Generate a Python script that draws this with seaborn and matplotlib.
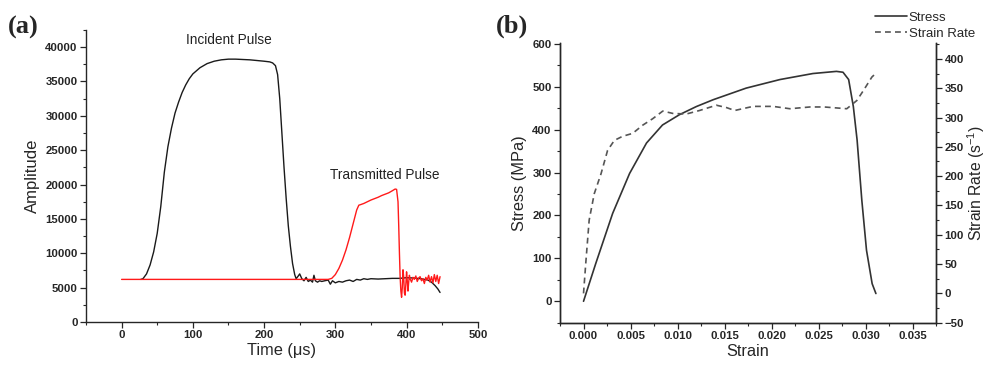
import seaborn as sns
import pandas as pd
import matplotlib.pyplot as plt
from matplotlib.ticker import MultipleLocator, FormatStrFormatter

# (a) incident pulse (black) and transmitted pulse (red)
inc_time = [27, 30, 35, 40, 45, 50, 55, 60, 65, 70, 75, 80, 85, 90, 95, 100, 110, 120, 130, 140,
            150, 160, 170, 180, 190, 200, 208, 212, 216, 219, 222, 225, 228, 231, 234, 237, 240,
            243, 245, 248, 250, 253, 256, 259, 262, 265, 268, 270, 272, 275, 278, 281, 285, 290,
            293, 296, 300, 305, 310, 315, 320, 325, 330, 335, 340, 345, 350, 360, 370, 380, 390,
            400, 410, 420, 430, 435, 440, 444, 447]
inc_amp = [6200, 6300, 7000, 8300, 10200, 12900, 16800, 21800, 25500, 28200, 30400, 32000, 33400,
           34500, 35400, 36100, 37000, 37600, 37950, 38150, 38250, 38250, 38200, 38150, 38050,
           37950, 37850, 37700, 37300, 36000, 32500, 27500, 22500, 18000, 14000, 11000, 8500,
           6900, 6300, 6700, 7000, 6300, 6000, 6500, 5900, 6100, 5800, 6800, 6000, 5800, 6000,
           5900, 6000, 6100, 5500, 6000, 5700, 5900, 5800, 6000, 6100, 5900, 6200, 6100, 6300,
           6200, 6300, 6250, 6300, 6350, 6350, 6450, 6400, 6300, 6100, 5800, 5300, 4800, 4300]

tr_time = [0, 100, 200, 290, 295, 300, 305, 310, 315, 320, 325, 330, 333, 336, 340, 345, 350, 355,
           360, 365, 370, 375, 380, 384, 386, 388, 389, 390, 391, 392, 393, 394, 395, 396, 397,
           398, 399, 400, 401, 402, 403, 404, 405, 407, 409, 411, 413, 415, 417, 419, 421, 423,
           425, 427, 429, 431, 433, 435, 437, 439, 441, 443, 445, 447]
tr_amp = [6200, 6200, 6200, 6200, 6350, 6900, 7800, 9000, 10500, 12300, 14300, 16300, 17000, 17100,
          17250, 17500, 17750, 17950, 18150, 18400, 18600, 18800, 19100, 19350, 19300, 17500,
          14000, 10000, 6500, 4500, 3600, 5000, 7600, 6500, 4200, 3900, 5500, 7300, 6000, 4500,
          5800, 6800, 6300, 5800, 6500, 6200, 6700, 5900, 6400, 6600, 6000, 6300, 5600, 6500,
          6100, 6800, 5800, 6600, 5700, 6900, 5900, 6800, 5600, 6600]

# (b) stress-strain and strain rate
stress_strain = [0.0, 0.0013, 0.0031, 0.0049, 0.0067, 0.0084, 0.0102, 0.012, 0.0138, 0.0173,
                 0.0209, 0.0244, 0.0269, 0.0276, 0.0282, 0.0287, 0.0291, 0.0296, 0.0301, 0.0307,
                 0.0311]
stress = [0, 88, 205, 298, 369, 411, 435, 454, 470, 497, 517, 531, 536, 534, 517, 454, 376, 236,
          119, 41, 18]

rate_strain = [0.0, 0.00026, 0.0006, 0.00114, 0.00186, 0.00256, 0.00328, 0.00416, 0.00523,
               0.0063, 0.00736, 0.00843, 0.0095, 0.01093, 0.01234, 0.01413, 0.0152, 0.01608,
               0.01803, 0.02017, 0.02195, 0.02408, 0.0256, 0.028, 0.02907, 0.02977, 0.03067,
               0.03113]
strain_rate = [0, 56, 125, 170, 204, 244, 261, 268, 273, 287, 298, 311, 307, 306, 312, 321, 317,
               312, 319, 319, 315, 318, 318, 315, 329, 346, 369, 376]

sns.set_style('ticks')
plt.rcParams['font.family'] = ['Liberation Sans', 'DejaVu Sans']
plt.rcParams['mathtext.fontset'] = 'custom'
plt.rcParams['mathtext.rm'] = 'Liberation Sans'
plt.rcParams['mathtext.it'] = 'Liberation Sans:italic'

fig = plt.figure(figsize=(9.87, 3.66), dpi=100)
ax1 = fig.add_axes([0.0871, 0.1202, 0.397, 0.798])
ax2 = fig.add_axes([0.5674, 0.1183, 0.381, 0.764])
ax3 = ax2.twinx()

inc = pd.DataFrame({'t': inc_time, 'a': inc_amp})
tr = pd.DataFrame({'t': tr_time, 'a': tr_amp})
sns.lineplot(data=inc, x='t', y='a', ax=ax1, color='#1a1a1a', lw=1.0, estimator=None)
sns.lineplot(data=tr, x='t', y='a', ax=ax1, color='#ff1a1a', lw=1.0, estimator=None)

ax1.set_xlim(-50, 500)
ax1.set_ylim(0, 42500)
ax1.xaxis.set_major_locator(MultipleLocator(100))
ax1.xaxis.set_minor_locator(MultipleLocator(50))
ax1.yaxis.set_major_locator(MultipleLocator(5000))
ax1.yaxis.set_minor_locator(MultipleLocator(2500))
ax1.set_xlabel('Time (μs)', fontsize=11.8, labelpad=2)
ax1.set_ylabel('Amplitude', fontsize=12, labelpad=4)
ax1.text(151, 41000, 'Incident Pulse', fontsize=9.8, ha='center', va='center', color='#222')
ax1.text(369, 21400, 'Transmitted Pulse', fontsize=9.8, ha='center', va='center', color='#222')
sns.despine(ax=ax1)

st = pd.DataFrame({'strain': stress_strain, 'stress': stress})
sr = pd.DataFrame({'strain': rate_strain, 'rate': strain_rate})
sns.lineplot(data=st, x='strain', y='stress', ax=ax2, color='#333', lw=1.2,
             estimator=None, label='Stress', legend=False)
sns.lineplot(data=sr, x='strain', y='rate', ax=ax3, color='#555', lw=1.2, ls=(0, (3.5, 2.5)),
             estimator=None, label='Strain Rate', legend=False)

ax2.set_xlim(-0.0025, 0.0375)
ax2.set_ylim(-50, 602)
ax3.set_ylim(-50, 427)
ax2.xaxis.set_major_locator(MultipleLocator(0.005))
ax2.xaxis.set_minor_locator(MultipleLocator(0.0025))
ax2.xaxis.set_major_formatter(FormatStrFormatter('%.3f'))
ax2.yaxis.set_major_locator(MultipleLocator(100))
ax2.yaxis.set_minor_locator(MultipleLocator(50))
ax3.yaxis.set_major_locator(MultipleLocator(50))
ax3.yaxis.set_minor_locator(MultipleLocator(25))
ax2.set_xlabel('Strain', fontsize=11.8, labelpad=2)
ax2.set_ylabel('Stress (MPa)', fontsize=11.8, labelpad=4)
ax3.set_ylabel('Strain Rate (s$^{-1}$)', fontsize=11.3, labelpad=1)
ax2.spines['top'].set_visible(False)
ax3.spines['top'].set_visible(False)

for ax in (ax1, ax2, ax3):
    ax.tick_params(which='major', direction='out', length=4, width=0.9, labelsize=8.2, pad=2)
    ax.tick_params(which='minor', direction='out', length=2.5, width=0.8)
    for lab in ax.get_xticklabels() + ax.get_yticklabels():
        lab.set_fontweight('bold')
    for sp in ax.spines.values():
        sp.set_linewidth(1.0)

handles = ax2.get_lines()[:1] + ax3.get_lines()[:1]
fig.legend(handles, ['Stress', 'Strain Rate'], loc='upper right', bbox_to_anchor=(1.0, 1.0),
           frameon=False, fontsize=9.5, handlelength=2.4, handletextpad=0.15, labelspacing=0.25)

fig.text(0.008, 0.926, '(a)', fontsize=19, fontweight='bold', family='Liberation Serif', va='center')
fig.text(0.502, 0.929, '(b)', fontsize=19, fontweight='bold', family='Liberation Serif', va='center')

plt.savefig('out.png', dpi=100)
